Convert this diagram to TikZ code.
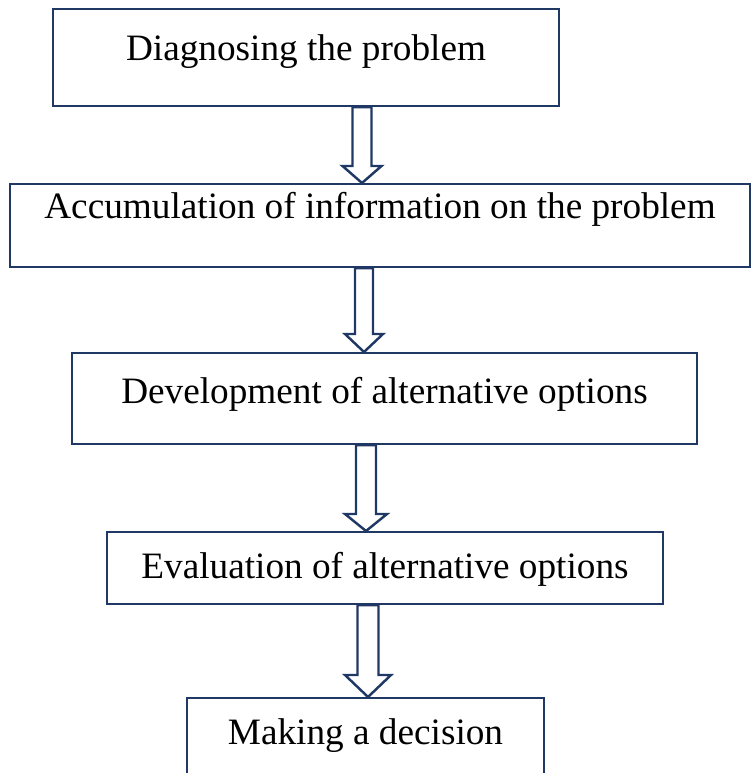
\documentclass[tikz,border=0pt]{standalone}
\usepackage{fontspec}
\setmainfont{Liberation Serif}
\usetikzlibrary{calc}
\definecolor{navy}{HTML}{1F3864}
\tikzset{
  stage/.style={draw=navy, line width=1.2pt, inner xsep=0pt, inner ysep=0pt, anchor=north,
    font=\fontsize{21.2}{25}\selectfont},
  hollow/.style={draw=navy, line width=1.4pt, line join=miter},
}
% hollow block arrow: from, to, x, half shaft, half head, head length
\newcommand{\blockarrow}[6]{%
  \draw[hollow] (#3-#4,0 |- #1.south) -- ($(#3-#4,0 |- #2.north)+(0,-#6)$)
    -- ($(#3-#5,0 |- #2.north)+(0,-#6)$) -- (#3,0 |- #2.north)
    -- ($(#3+#5,0 |- #2.north)+(0,-#6)$) -- ($(#3+#4,0 |- #2.north)+(0,-#6)$)
    -- (#3+#4,0 |- #1.south) -- cycle;}

\begin{document}
\begin{tikzpicture}[x=0.02cm, y=-0.02cm]
  \useasboundingbox (0,0) rectangle (752,773);
  \node[stage, minimum width=10.12cm, text height=1.02cm, text depth=0.92cm] (diag) at (306,8) {Diagnosing the problem};
  \node[stage, minimum width=14.8cm, text height=0.68cm, text depth=0.98cm] (accum) at (380,183) {Accumulation of information on the problem};
  \node[stage, minimum width=12.5cm, text height=1.0cm, text depth=0.82cm] (develop) at (384.5,352) {Development of alternative options};
  \node[stage, minimum width=11.12cm, text height=0.92cm, text depth=0.52cm] (evaluate) at (385,531) {Evaluation of alternative options};
  \node[stage, minimum width=7.14cm, text height=0.92cm, text depth=1.4cm] (decide) at (365.5,697) {Making a decision};
  \foreach \a/\b/\x/\s/\h/\l in {diag/accum/362/9.5/19.5/17, accum/develop/364/9/19/18,
      develop/evaluate/366/10/21/17, evaluate/decide/368/10.5/23/22}
    \blockarrow{\a}{\b}{\x}{\s}{\h}{\l};
\end{tikzpicture}
\end{document}
